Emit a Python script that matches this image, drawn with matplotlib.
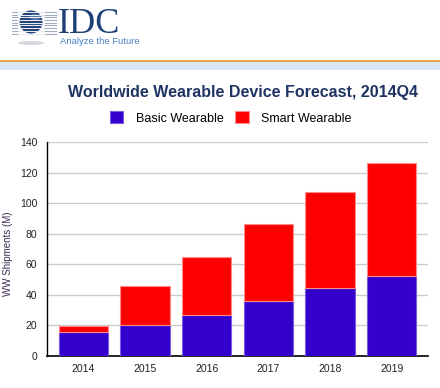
import numpy as np
import matplotlib
matplotlib.use('Agg')
import matplotlib.pyplot as plt
from matplotlib.patches import Circle, Ellipse, Rectangle

plt.rcParams['font.family'] = ['Liberation Sans', 'DejaVu Sans']

# dados
anos = ['2014', '2015', '2016', '2017', '2018', '2019']
basico = [15.4, 20.0, 26.5, 36.0, 44.5, 52.5]
smart = [4.2, 25.7, 38.2, 50.2, 62.5, 73.8]
yticks = [0, 20, 40, 60, 80, 100, 120, 140]

W, H = 440, 388
fig = plt.figure(figsize=(W / 100, H / 100), dpi=100)
fig.patch.set_facecolor('white')

def px(x0, y0, x1, y1):
    # retangulo em pixels (origem no topo) -> coordenadas da figura
    return [x0 / W, 1 - y1 / H, (x1 - x0) / W, (y1 - y0) / H]

# cabecalho: logo IDC
logo = fig.add_axes(px(8, 2, 60, 48))
logo.set_xlim(0, 52)
logo.set_ylim(46, 0)
logo.axis('off')
for yy in np.arange(10, 32, 2.7):
    logo.plot([4, 48], [yy, yy], color='#a3adbd', lw=0.8)
logo.add_patch(Ellipse((23, 41), 26, 4, color='#d4d8de', lw=0))
logo.add_patch(Circle((23, 20), 11.5, color='#1d3f78', lw=0))
logo.add_patch(Ellipse((27, 15), 11, 6, color='#7d9acb', lw=0, alpha=0.6))
for yy in np.arange(10, 32, 2.7):
    logo.plot([10, 36], [yy, yy], color='white', lw=0.7, alpha=0.8)

fig.text(58 / W, 1 - 33 / H, 'IDC', family='Liberation Serif', fontsize=26,
         color='#1d3f78', va='baseline', ha='left')
fig.text(60 / W, 1 - 42 / H, 'Analyze the Future', fontsize=6.8,
         color='#4a80c4', va='center', ha='left')

# faixa laranja e azul clara
fig.patches.append(Rectangle((0, 1 - 70 / H), 1, 9 / H, transform=fig.transFigure,
                             color='#d8e7f3', lw=0))
fig.patches.append(Rectangle((0, 1 - 61.5 / H), 1, 2 / H, transform=fig.transFigure,
                             color='#e2a64c', lw=0))

# titulo
fig.text(243 / W, 1 - 92 / H, 'Worldwide Wearable Device Forecast, 2014Q4',
         fontsize=11.5, fontweight='bold', color='#1f3463', ha='center', va='center')

# grafico
ax = fig.add_axes(px(47, 142, 428, 356))
x = np.arange(len(anos))
b1 = ax.bar(x, basico, width=0.8, color='#3300cc', edgecolor='#7a5ce0', linewidth=0.8,
            label='Basic Wearable', zorder=3)
b2 = ax.bar(x, smart, width=0.8, bottom=basico, color='#ff0000', edgecolor='#ff8a8a',
            linewidth=0.8, label='Smart Wearable', zorder=3)

ax.set_xlim(-0.59, len(anos) - 0.41)
ax.set_ylim(0, 140)
ax.set_yticks(yticks)
ax.set_xticks(x)
ax.set_xticklabels(anos)
ax.tick_params(axis='both', length=0, labelsize=7.5, colors='#222222')
ax.tick_params(axis='y', pad=7)
ax.tick_params(axis='x', pad=6)
ax.grid(axis='y', color='#cccccc', linewidth=1, zorder=0)
for s in ['top', 'right']:
    ax.spines[s].set_visible(False)
ax.spines['left'].set_color('black')
ax.spines['bottom'].set_color('black')
ax.spines['left'].set_linewidth(1)
ax.spines['bottom'].set_linewidth(1.2)
ax.set_ylabel('WW Shipments (M)', fontsize=7, color='#3a2a50')
ax.yaxis.set_label_coords(-0.089, 0.48)

fig.legend(handles=[b1, b2], loc='center', bbox_to_anchor=(230.5 / W, 1 - 118 / H),
           ncol=2, frameon=False, fontsize=9, handlelength=1.1, handleheight=1.1,
           handletextpad=1.0, columnspacing=0.9)

plt.savefig('out.png', dpi=100)
